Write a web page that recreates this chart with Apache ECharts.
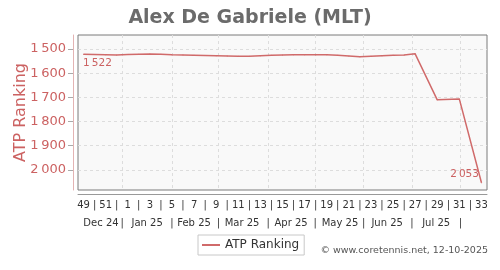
<!DOCTYPE html>
<html>
<head>
<meta charset="utf-8">
<script src="https://cdn.jsdelivr.net/npm/echarts@6/dist/echarts.min.js"></script>
<style>
html,body{margin:0;padding:0;background:#fff;}
#chart{width:500px;height:270px;}
</style>
</head>
<body>
<div id="chart"></div>
<script>
// ---- data ----
const weeks = ['49','50','51','52','1','2','3','4','5','6','7','8','9','10','11','12','13','14','15','16','17','18','19','20','21','22','23','24','25','26','27','28','29','30','31','32','33'];
const ranking = [1522,1523,1524,1525,1523,1522,1521,1522,1524,1525,1526,1527,1528,1529,1530,1530,1528,1526,1525,1524,1524,1524,1524,1526,1529,1532,1530,1528,1526,1525,1520,null,1710,null,1707,null,2053];
const yTicks = [1500,1600,1700,1800,1900,2000];
const months = ['Dec 24','Jan 25','Feb 25','Mar 25','Apr 25','May 25','Jun 25','Jul 25'];
const monthCenters = [1.58,5.75,10.0,14.34,18.78,23.2,27.47,31.9];
const monthBounds = [3.5,8.0,12.2,16.7,20.95,25.35,29.7,34.1];
const seriesName = 'ATP Ranking';
const titleText = 'Alex De Gabriele (MLT)';
const credit = '\u00A9 www.coretennis.net, 12-10-2025';

// ---- styles ----
const RED = '#cc6262';
const LINE = '#d06a6a';
const FONT = 'DejaVu Sans';

function fmtNum(v){
  const s = String(Math.round(v));
  return s.length > 3 ? s.slice(0, s.length-3) + '\u2009' + s.slice(-3) : s;
}

const lastIdx = ranking.length - 1;
const seriesData = ranking.map((v, i) => {
  if (i === 0) {
    return {value: v, label: {show: true, position: [0, 4], align: 'left', verticalAlign: 'top'}};
  }
  if (i === lastIdx) {
    return {value: v, label: {show: true, position: [-2, -2], align: 'right', verticalAlign: 'bottom'}};
  }
  return v;
});

const monthLabelMap = {};
months.forEach((m, i) => { monthLabelMap[monthCenters[i].toFixed(3)] = m; });
monthBounds.forEach(b => { monthLabelMap[b.toFixed(3)] = '|'; });

const chart = echarts.init(document.getElementById('chart'), null, {renderer: 'canvas'});
chart.setOption({
  animation: false,
  backgroundColor: '#ffffff',
  textStyle: {fontFamily: FONT},
  title: {
    text: titleText,
    left: 'center',
    top: 4,
    textStyle: {fontFamily: FONT, fontSize: 19, fontWeight: 'bold', color: '#6b6b6b'}
  },
  grid: {
    left: 78, right: 13, top: 35, bottom: 80,
    show: true, backgroundColor: '#f9f9f9', borderColor: '#7a7a7a', borderWidth: 1,
    containLabel: false
  },
  legend: {
    left: 198, top: 235,
    padding: [4, 5, 4, 4],
    itemGap: 4,
    borderColor: '#c8c8c8', borderWidth: 1, borderRadius: 0,
    itemWidth: 18, itemHeight: 2,
    data: [{name: seriesName, icon: 'rect'}],
    textStyle: {fontFamily: FONT, fontSize: 12, color: '#333', padding: [0,0,0,0]}
  },
  graphic: [{
    type: 'text', right: 12, top: 246,
    style: {text: credit, fontFamily: FONT, fontSize: 9.5, fill: '#555'}
  }],
  xAxis: [{
    type: 'category',
    data: weeks,
    boundaryGap: true,
    position: 'bottom',
    offset: 4,
    axisLine: {show: true, onZero: false, lineStyle: {color: '#999', width: 1}},
    axisTick: {show: false},
    splitLine: {show: false},
    axisLabel: {
      interval: 0, margin: 6, fontFamily: FONT, fontSize: 10, color: '#333', hideOverlap: false,
      formatter: (val, idx) => (idx % 2 === 0 ? val : '|')
    }
  }, {
    type: 'value',
    min: -0.5, max: 36.5,
    position: 'bottom',
    offset: 4,
    axisLine: {show: false, onZero: false},
    axisTick: {show: false, customValues: monthBounds},
    splitLine: {show: true, lineStyle: {color: '#dddddd', type: [3, 3], width: 1}},
    axisLabel: {
      margin: 24, fontFamily: FONT, fontSize: 10, color: '#333', hideOverlap: false,
      showMinLabel: true, showMaxLabel: true,
      customValues: monthCenters.concat(monthBounds),
      formatter: (v) => monthLabelMap[Number(v).toFixed(3)] || ''
    }
  }],
  yAxis: {
    type: 'value',
    inverse: true,
    min: 1442, max: 2083,
    offset: 5,
    name: seriesName,
    nameLocation: 'middle',
    nameGap: 44,
    nameMoveOverlap: false,
    nameTextStyle: {fontFamily: FONT, fontSize: 16, color: RED},
    axisLine: {show: true, onZero: false, lineStyle: {color: '#e3b3b3', width: 1}},
    axisTick: {show: true, length: 5, customValues: yTicks, lineStyle: {color: '#aaa'}},
    splitLine: {show: true, lineStyle: {color: '#dddddd', type: [3, 3], width: 1}},
    axisLabel: {
      margin: 7, fontFamily: FONT, fontSize: 13, color: RED,
      customValues: yTicks,
      formatter: (v) => fmtNum(v)
    }
  },
  series: [{
    name: seriesName,
    type: 'line',
    xAxisIndex: 0,
    data: seriesData,
    connectNulls: true,
    showSymbol: true,
    symbol: 'circle',
    symbolSize: 1,
    itemStyle: {color: LINE},
    lineStyle: {color: LINE, width: 1.5},
    label: {show: false, fontFamily: FONT, fontSize: 10.5, color: RED, formatter: (p) => fmtNum(p.value)},
    emphasis: {disabled: true}
  }]
});
</script>
</body>
</html>
